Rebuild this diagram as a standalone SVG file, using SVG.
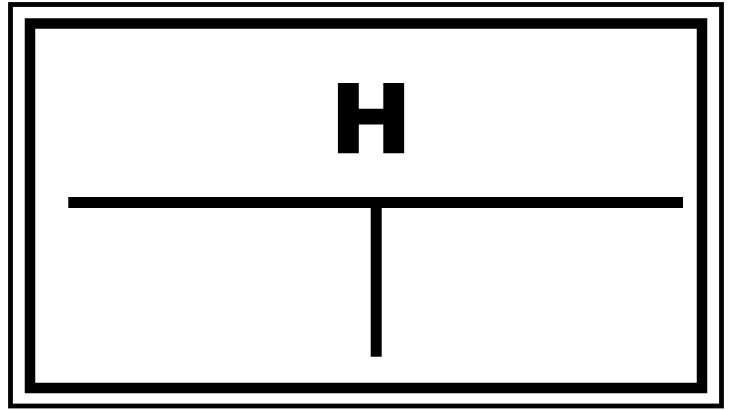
<svg xmlns="http://www.w3.org/2000/svg" width="730" height="410" viewBox="0 0 730 410">
<style>
.frame{fill:none;stroke:#000}
.bar{fill:#000}
.lbl{font-family:"DejaVu Sans",sans-serif;font-weight:bold;font-size:92px;fill:#000;stroke:#000;stroke-width:2.4;stroke-linejoin:miter;text-anchor:middle}
</style>
<rect width="730" height="410" fill="#fff"/>
<g id="frame">
<rect class="frame" x="10.5" y="4.5" width="711" height="401.5" stroke-width="4.8"/>
<rect class="frame" x="30" y="23.5" width="672" height="364.5" stroke-width="10.5"/>
</g>
<g id="node-H">
<text class="lbl" transform="translate(371,151.5) scale(1.06,1)" x="0" y="0">H</text>
</g>
<g id="connectors">
<rect class="bar" x="68.3" y="197" width="614.7" height="11"/>
<rect class="bar" x="370.7" y="208" width="11" height="148.7"/>
</g>
</svg>
